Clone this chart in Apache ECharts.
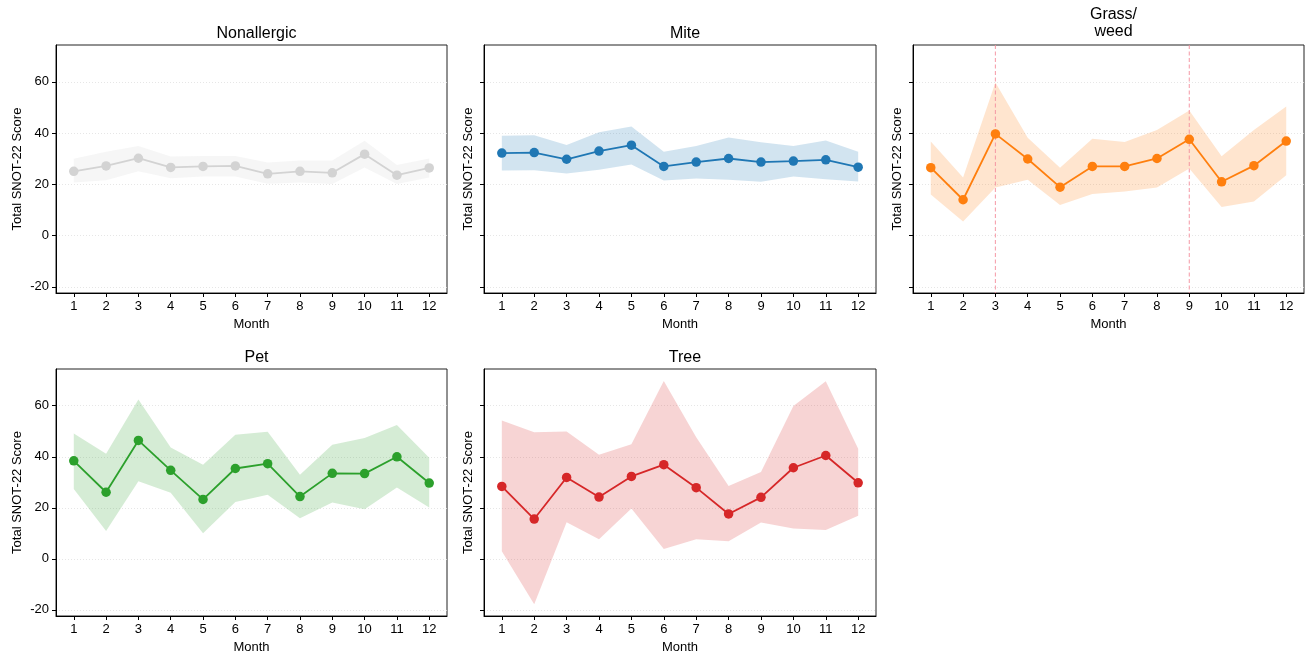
<!DOCTYPE html>
<html><head><meta charset="utf-8">
<script src="https://cdn.jsdelivr.net/npm/echarts@6/dist/echarts.min.js"></script>
<style>html,body{margin:0;padding:0;background:#fff}#c{width:1314px;height:665px}</style>
</head><body><div id="c"></div><script>
const months = [1,2,3,4,5,6,7,8,9,10,11,12];
const yTicks = [-20,0,20,40,60];
const panelTitles = ['Nonallergic','Mite','Grass/\nweed','Pet','Tree'];
const panelColors = ['#d3d3d3','#1f77b4','#ff7f0e','#2ca02c','#d62728'];
const seasonMarks = [3,9];

const nonallergicMean  = [25.1,27.2,30.2,26.6,27.0,27.2,24.1,25.1,24.5,31.8,23.6,26.4];
const nonallergicLower = [20.7,21.6,25.1,22.4,23.1,23.1,20.2,20.7,20.1,26.6,20.1,22.7];
const nonallergicUpper = [30.0,32.7,35.0,30.9,31.1,31.1,28.5,29.3,29.3,37.0,27.6,30.1];

const miteMean  = [32.2,32.4,29.8,33.0,35.3,27.0,28.7,30.1,28.7,29.1,29.6,26.7];
const miteLower = [25.4,25.5,24.2,25.7,27.8,21.5,22.3,21.8,21.0,23.1,22.0,21.1];
const miteUpper = [39.0,39.2,35.4,40.3,42.6,32.7,35.0,38.3,36.4,35.0,37.1,32.7];

const grassMean  = [26.5,14.0,39.7,29.9,18.9,27.0,27.0,30.1,37.6,21.0,27.3,36.9];
const grassLower = [16.0,5.5,18.8,21.8,11.9,16.2,17.2,18.8,26.2,11.2,13.3,23.6];
const grassUpper = [36.7,22.7,59.8,38.2,26.5,37.8,36.5,41.2,48.8,31.0,41.2,50.4];

const petMean  = [38.4,26.1,46.4,34.7,23.3,35.4,37.3,24.4,33.5,33.4,40.0,29.7];
const petLower = [27.4,10.9,30.4,25.9,10.0,22.3,25.1,15.9,22.1,19.4,28.0,20.1];
const petUpper = [49.1,41.2,62.4,43.6,36.9,48.6,49.8,33.0,44.7,47.4,52.5,39.6];

const treeMean  = [28.4,15.6,31.9,24.2,32.3,36.9,27.9,17.6,24.1,35.7,40.5,29.8];
const treeLower = [3.0,-17.8,14.3,7.7,19.7,3.9,7.7,6.9,14.2,11.9,11.3,16.9];
const treeUpper = [54.2,49.6,49.9,40.8,44.9,69.7,47.7,28.5,34.0,59.9,69.6,43.1];

const panels = [
  {mean: nonallergicMean, lower: nonallergicLower, upper: nonallergicUpper},
  {mean: miteMean, lower: miteLower, upper: miteUpper},
  {mean: grassMean, lower: grassLower, upper: grassUpper, marks: seasonMarks},
  {mean: petMean, lower: petLower, upper: petUpper},
  {mean: treeMean, lower: treeLower, upper: treeUpper}
];

const FONT = "'Liberation Sans', Arial, sans-serif";
const boxes = [
  {left: 56, top: 45, width: 391, height: 248, labels: true},
  {left: 484, top: 45, width: 392, height: 248, labels: false},
  {left: 913, top: 45, width: 391, height: 248, labels: false},
  {left: 56, top: 369, width: 391, height: 247, labels: true},
  {left: 484, top: 369, width: 392, height: 247, labels: false}
];

const grid = [], xAxis = [], yAxis = [], series = [], title = [];
boxes.forEach((b, i) => {
  grid.push({left: b.left, top: b.top, width: b.width, height: b.height, show: true,
    borderColor: '#222', borderWidth: 1, backgroundColor: 'transparent'});
  xAxis.push({type: 'value', gridIndex: i, min: 0.45, max: 12.55,
    name: 'Month', nameLocation: 'middle', nameGap: 25,
    nameTextStyle: {fontFamily: FONT, fontSize: 13, color: '#000'},
    axisLine: {show: true, onZero: false, lineStyle: {color: '#000'}},
    axisTick: {show: true, length: 4, inside: false, customValues: months, lineStyle: {color: '#000'}},
    axisLabel: {customValues: months, fontFamily: FONT, fontSize: 13, color: '#000', margin: 7},
    splitLine: {show: false}});
  yAxis.push({type: 'value', gridIndex: i, min: -22.4, max: 74.4,
    name: 'Total SNOT-22 Score', nameLocation: 'middle', nameGap: b.labels ? 32 : 9,
    nameTextStyle: {fontFamily: FONT, fontSize: 13, color: '#000'},
    axisLine: {show: true, onZero: false, lineStyle: {color: '#000'}},
    axisTick: {show: true, length: 4, customValues: yTicks, lineStyle: {color: '#000'}},
    axisLabel: {show: b.labels, customValues: yTicks, fontFamily: FONT, fontSize: 13, color: '#000', margin: 7},
    splitLine: {show: true, lineStyle: {color: '#e0e0e0', type: [1, 2], width: 0.8}}});
  title.push({text: panelTitles[i], left: b.left + b.width / 2, textAlign: 'center',
    top: panelTitles[i].includes('\n') ? 1 : b.top - 25,
    textStyle: {fontFamily: FONT, fontSize: 16, fontWeight: 'normal', color: '#000', lineHeight: 17}});
  const p = panels[i];
  const c = panelColors[i];
  series.push({type: 'custom', xAxisIndex: i, yAxisIndex: i, silent: true, z: 1, clip: true,
    data: months.map((m, j) => [m, p.lower[j], p.upper[j]]),
    encode: {x: 0, y: [1, 2]},
    renderItem: function (params, api) {
      if (params.dataIndex !== 0) return null;
      const top = months.map((m, j) => api.coord([m, p.upper[j]]));
      const bot = months.map((m, j) => api.coord([m, p.lower[j]])).reverse();
      return {type: 'polygon', shape: {points: top.concat(bot)},
        style: {fill: c, opacity: 0.2, stroke: null}};
    }});
  if (p.marks) {
    series.push({type: 'custom', xAxisIndex: i, yAxisIndex: i, silent: true, z: 2,
      data: p.marks.map(v => [v, 0]), encode: {x: 0, y: 1},
      renderItem: function (params, api) {
        const cs = params.coordSys;
        const x = api.coord([api.value(0), 0])[0];
        return {type: 'line', shape: {x1: x, y1: cs.y, x2: x, y2: cs.y + cs.height},
          style: {stroke: '#f3909f', lineWidth: 1.1, lineDash: [4, 2.5], fill: null, opacity: 0.85}};
      }});
  }
  series.push({type: 'line', xAxisIndex: i, yAxisIndex: i,
    data: months.map((m, j) => [m, p.mean[j]]), symbol: 'circle', symbolSize: 9.5,
    itemStyle: {color: c}, lineStyle: {color: c, width: 1.8}, z: 3});
});

const chart = echarts.init(document.getElementById('c'), null, {renderer: 'canvas'});
chart.setOption({animation: false, backgroundColor: '#fff', title, grid, xAxis, yAxis, series});
</script></body></html>
